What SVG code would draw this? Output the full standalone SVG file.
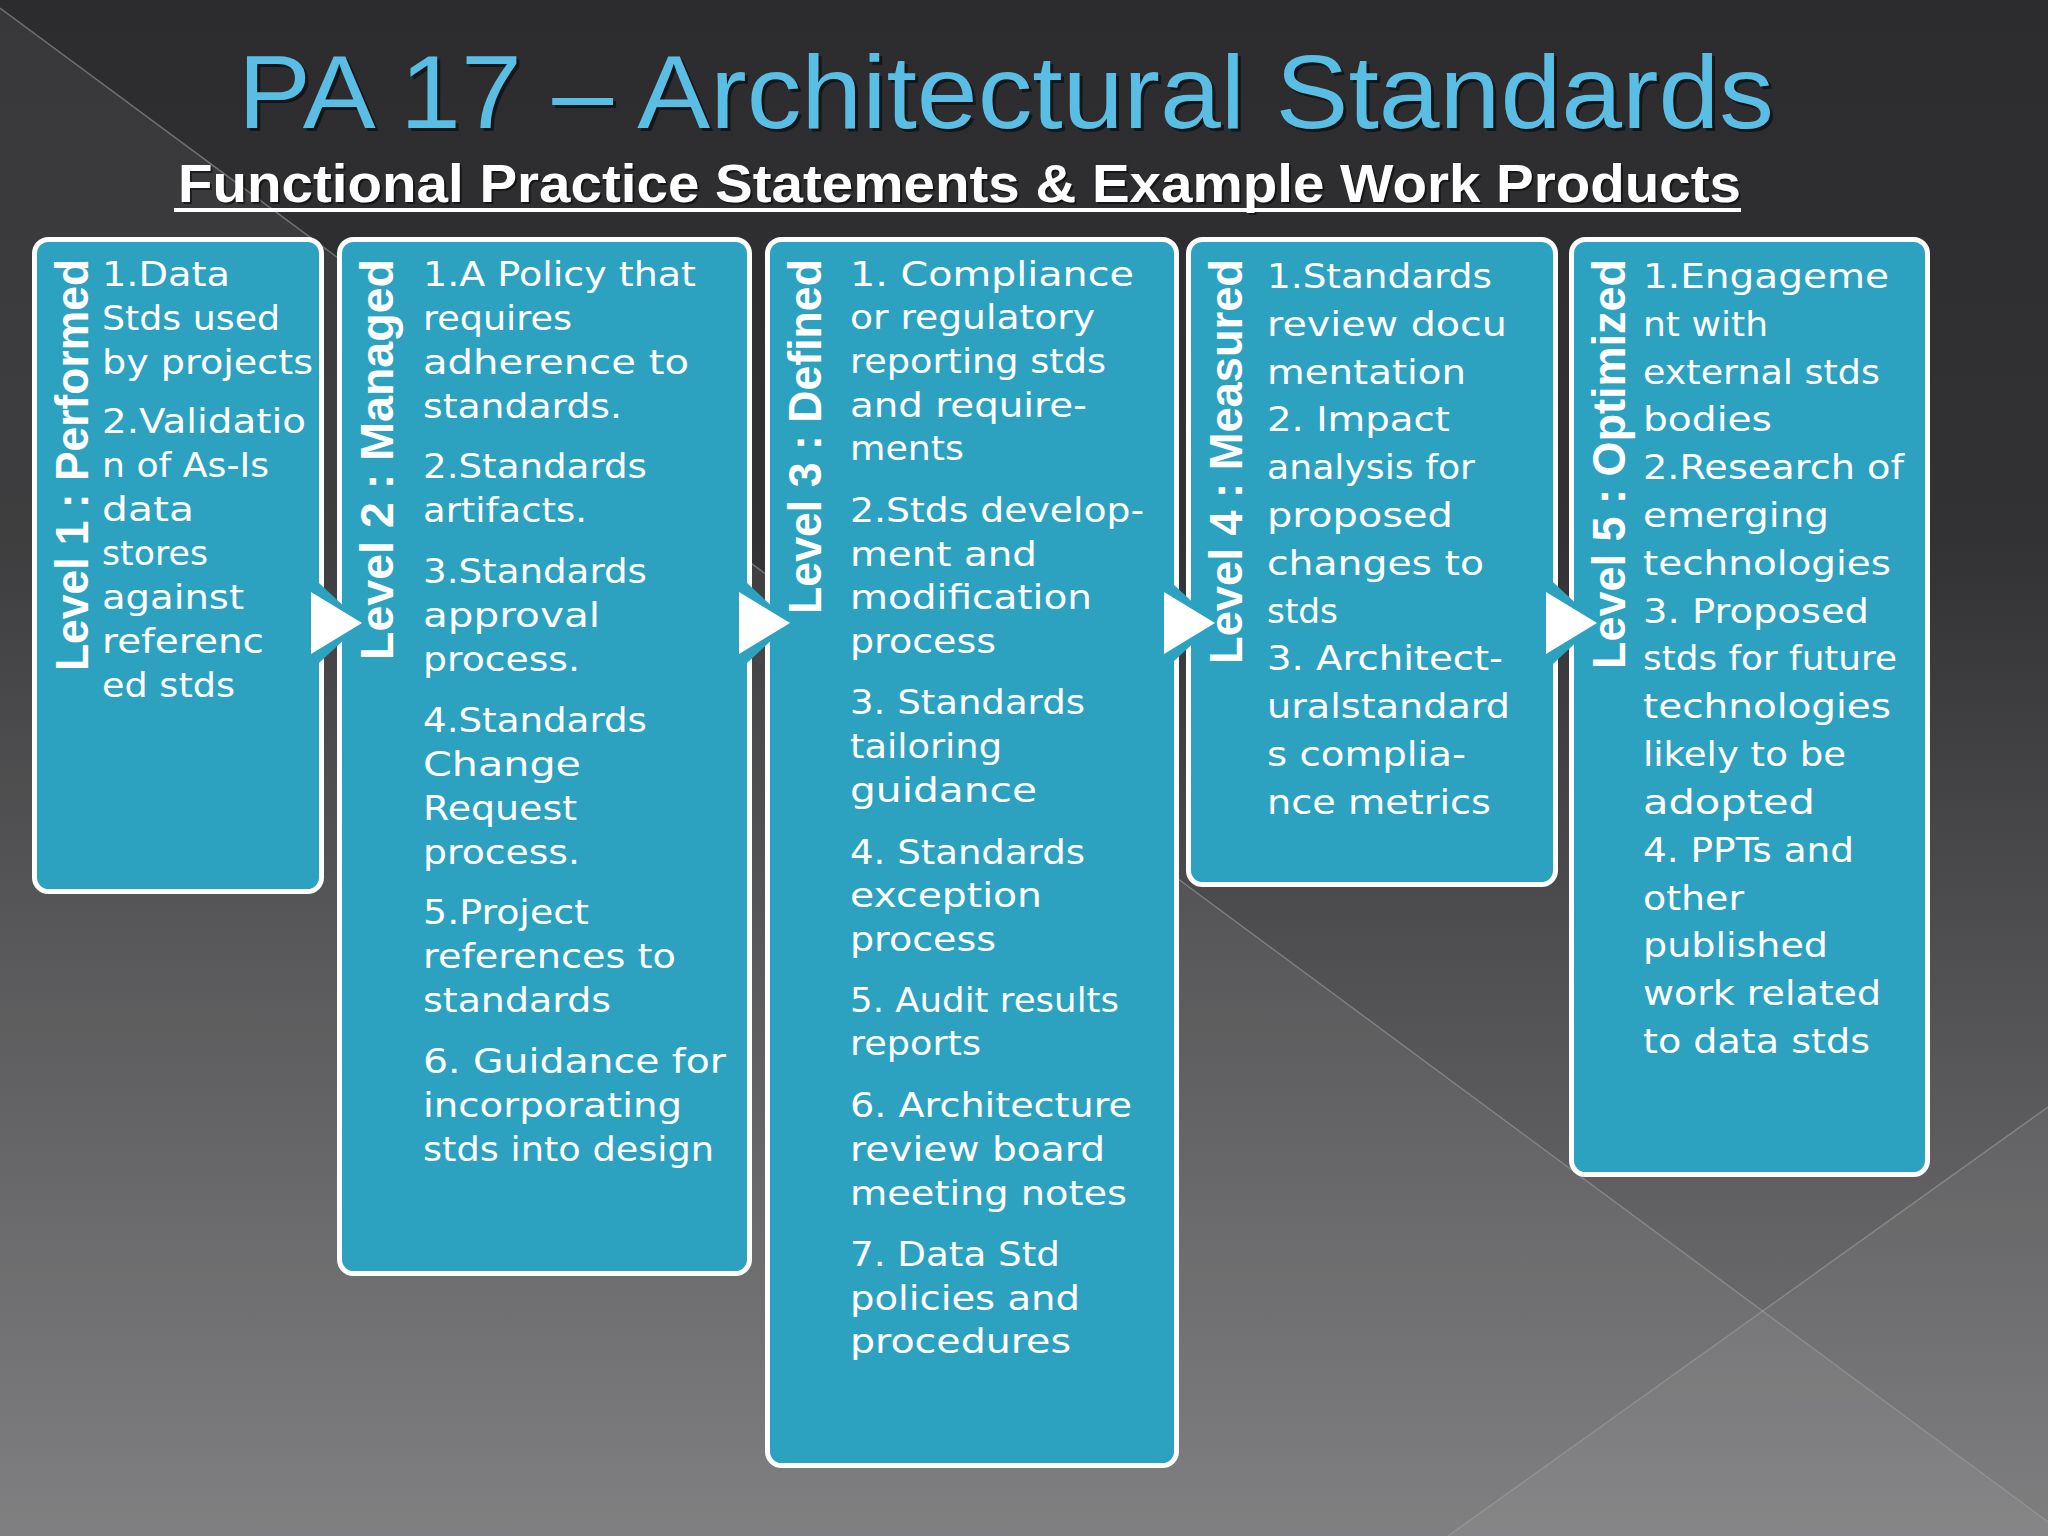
<svg xmlns="http://www.w3.org/2000/svg" width="2048" height="1536" viewBox="0 0 2048 1536">
<defs>
<linearGradient id="bg" x1="0" y1="0" x2="0" y2="1">
<stop offset="0" stop-color="#2c2c2e"/>
<stop offset="0.35" stop-color="#323234"/>
<stop offset="1" stop-color="#78787a"/>
</linearGradient>
<style>
.box{fill:#2da2c0;stroke:#ffffff;stroke-width:5}
.t{font-family:"DejaVu Sans","Liberation Sans",sans-serif;font-size:34px;fill:#ffffff}
.lbl{font-family:"Liberation Sans","DejaVu Sans",sans-serif;font-size:46px;font-weight:bold;fill:#ffffff}
.title{font-family:"Liberation Sans","DejaVu Sans",sans-serif;font-size:104px;fill:#5abee4}
.titlesh{font-family:"Liberation Sans","DejaVu Sans",sans-serif;font-size:104px;fill:#111113;opacity:0.8}
.sub{font-family:"Liberation Sans","DejaVu Sans",sans-serif;font-size:54px;font-weight:bold;fill:#ffffff}
.subsh{font-family:"Liberation Sans","DejaVu Sans",sans-serif;font-size:54px;font-weight:bold;fill:#000000;opacity:0.5}
.arrback{fill:#2da2c0}
.arr{fill:#ffffff}
.bgline{stroke:#a0a0a2;stroke-opacity:0.55;stroke-width:1.5;fill:none}
</style>
</defs>

<g id="background">
<rect x="0" y="0" width="2048" height="1536" fill="url(#bg)"/>
<polygon points="0,8 2048,1522 2048,1536 0,1536" fill="#ffffff" opacity="0.06"/>
<polygon points="2048,1107 1448,1536 2048,1536" fill="#ffffff" opacity="0.05"/>
<line class="bgline" x1="0" y1="8" x2="2048" y2="1522"/>
<line class="bgline" x1="2048" y1="1107" x2="1448" y2="1536"/>
</g>

<g id="title">
<text class="titlesh" x="241" y="131" textLength="1536" lengthAdjust="spacingAndGlyphs">PA 17 – Architectural Standards</text>
<text class="title" x="238" y="128" textLength="1536" lengthAdjust="spacingAndGlyphs">PA 17 – Architectural Standards</text>
<text class="subsh" x="180" y="204" textLength="1563" lengthAdjust="spacingAndGlyphs">Functional Practice Statements &amp; Example Work Products</text>
<text class="sub" x="178" y="202" textLength="1563" lengthAdjust="spacingAndGlyphs">Functional Practice Statements &amp; Example Work Products</text>
<rect x="174" y="208" width="1567" height="4" fill="#ffffff"/>
</g>

<g id="level1">
<rect class="box" x="34.5" y="239.5" width="287" height="652" rx="14"/>
<text class="lbl" transform="translate(88,259) rotate(-90)" x="0" y="0" text-anchor="end" textLength="412" lengthAdjust="spacingAndGlyphs">Level 1 : Performed</text>
<text class="t" x="102" y="286" textLength="128" lengthAdjust="spacingAndGlyphs">1.Data</text>
<text class="t" x="102" y="330" textLength="178" lengthAdjust="spacingAndGlyphs">Stds used</text>
<text class="t" x="102" y="374" textLength="211" lengthAdjust="spacingAndGlyphs">by projects</text>
<text class="t" x="102" y="433" textLength="204" lengthAdjust="spacingAndGlyphs">2.Validatio</text>
<text class="t" x="102" y="477" textLength="167" lengthAdjust="spacingAndGlyphs">n of As-Is</text>
<text class="t" x="102" y="521" textLength="92" lengthAdjust="spacingAndGlyphs">data</text>
<text class="t" x="102" y="565" textLength="106" lengthAdjust="spacingAndGlyphs">stores</text>
<text class="t" x="102" y="609" textLength="142" lengthAdjust="spacingAndGlyphs">against</text>
<text class="t" x="102" y="653" textLength="162" lengthAdjust="spacingAndGlyphs">referenc</text>
<text class="t" x="102" y="697" textLength="133" lengthAdjust="spacingAndGlyphs">ed stds</text>
</g>

<g id="level2">
<rect class="box" x="339.5" y="239.5" width="410" height="1034" rx="14"/>
<text class="lbl" transform="translate(393,259) rotate(-90)" x="0" y="0" text-anchor="end" textLength="401" lengthAdjust="spacingAndGlyphs">Level 2 : Managed</text>
<text class="t" x="423" y="286" textLength="273" lengthAdjust="spacingAndGlyphs">1.A Policy that</text>
<text class="t" x="423" y="330" textLength="149" lengthAdjust="spacingAndGlyphs">requires</text>
<text class="t" x="423" y="374" textLength="266" lengthAdjust="spacingAndGlyphs">adherence to</text>
<text class="t" x="423" y="418" textLength="199" lengthAdjust="spacingAndGlyphs">standards.</text>
<text class="t" x="423" y="478" textLength="224" lengthAdjust="spacingAndGlyphs">2.Standards</text>
<text class="t" x="423" y="522" textLength="164" lengthAdjust="spacingAndGlyphs">artifacts.</text>
<text class="t" x="423" y="583" textLength="224" lengthAdjust="spacingAndGlyphs">3.Standards</text>
<text class="t" x="423" y="627" textLength="177" lengthAdjust="spacingAndGlyphs">approval</text>
<text class="t" x="423" y="671" textLength="157" lengthAdjust="spacingAndGlyphs">process.</text>
<text class="t" x="423" y="732" textLength="224" lengthAdjust="spacingAndGlyphs">4.Standards</text>
<text class="t" x="423" y="776" textLength="158" lengthAdjust="spacingAndGlyphs">Change</text>
<text class="t" x="423" y="820" textLength="154" lengthAdjust="spacingAndGlyphs">Request</text>
<text class="t" x="423" y="864" textLength="157" lengthAdjust="spacingAndGlyphs">process.</text>
<text class="t" x="423" y="924" textLength="166" lengthAdjust="spacingAndGlyphs">5.Project</text>
<text class="t" x="423" y="968" textLength="253" lengthAdjust="spacingAndGlyphs">references to</text>
<text class="t" x="423" y="1012" textLength="188" lengthAdjust="spacingAndGlyphs">standards</text>
<text class="t" x="423" y="1073" textLength="303" lengthAdjust="spacingAndGlyphs">6. Guidance for</text>
<text class="t" x="423" y="1117" textLength="259" lengthAdjust="spacingAndGlyphs">incorporating</text>
<text class="t" x="423" y="1161" textLength="291" lengthAdjust="spacingAndGlyphs">stds into design</text>
</g>

<g id="level3">
<rect class="box" x="767.5" y="239.5" width="409" height="1226" rx="14"/>
<text class="lbl" transform="translate(821,259) rotate(-90)" x="0" y="0" text-anchor="end" textLength="355" lengthAdjust="spacingAndGlyphs">Level 3 : Defined</text>
<text class="t" x="850" y="286" textLength="284" lengthAdjust="spacingAndGlyphs">1. Compliance</text>
<text class="t" x="850" y="329" textLength="245" lengthAdjust="spacingAndGlyphs">or regulatory</text>
<text class="t" x="850" y="373" textLength="256" lengthAdjust="spacingAndGlyphs">reporting stds</text>
<text class="t" x="850" y="417" textLength="237" lengthAdjust="spacingAndGlyphs">and require-</text>
<text class="t" x="850" y="460" textLength="114" lengthAdjust="spacingAndGlyphs">ments</text>
<text class="t" x="850" y="522" textLength="294" lengthAdjust="spacingAndGlyphs">2.Stds develop-</text>
<text class="t" x="850" y="566" textLength="187" lengthAdjust="spacingAndGlyphs">ment and</text>
<text class="t" x="850" y="609" textLength="242" lengthAdjust="spacingAndGlyphs">modification</text>
<text class="t" x="850" y="653" textLength="146" lengthAdjust="spacingAndGlyphs">process</text>
<text class="t" x="850" y="714" textLength="235" lengthAdjust="spacingAndGlyphs">3. Standards</text>
<text class="t" x="850" y="758" textLength="152" lengthAdjust="spacingAndGlyphs">tailoring</text>
<text class="t" x="850" y="802" textLength="187" lengthAdjust="spacingAndGlyphs">guidance</text>
<text class="t" x="850" y="864" textLength="235" lengthAdjust="spacingAndGlyphs">4. Standards</text>
<text class="t" x="850" y="907" textLength="192" lengthAdjust="spacingAndGlyphs">exception</text>
<text class="t" x="850" y="951" textLength="146" lengthAdjust="spacingAndGlyphs">process</text>
<text class="t" x="850" y="1012" textLength="269" lengthAdjust="spacingAndGlyphs">5. Audit results</text>
<text class="t" x="850" y="1055" textLength="131" lengthAdjust="spacingAndGlyphs">reports</text>
<text class="t" x="850" y="1117" textLength="282" lengthAdjust="spacingAndGlyphs">6. Architecture</text>
<text class="t" x="850" y="1161" textLength="255" lengthAdjust="spacingAndGlyphs">review board</text>
<text class="t" x="850" y="1205" textLength="277" lengthAdjust="spacingAndGlyphs">meeting notes</text>
<text class="t" x="850" y="1266" textLength="210" lengthAdjust="spacingAndGlyphs">7. Data Std</text>
<text class="t" x="850" y="1310" textLength="230" lengthAdjust="spacingAndGlyphs">policies and</text>
<text class="t" x="850" y="1353" textLength="221" lengthAdjust="spacingAndGlyphs">procedures</text>
</g>

<g id="level4">
<rect class="box" x="1188.5" y="239.5" width="367" height="645" rx="14"/>
<text class="lbl" transform="translate(1242,259) rotate(-90)" x="0" y="0" text-anchor="end" textLength="405" lengthAdjust="spacingAndGlyphs">Level 4 : Measured</text>
<text class="t" x="1267" y="288" textLength="225" lengthAdjust="spacingAndGlyphs">1.Standards</text>
<text class="t" x="1267" y="336" textLength="240" lengthAdjust="spacingAndGlyphs">review docu</text>
<text class="t" x="1267" y="384" textLength="199" lengthAdjust="spacingAndGlyphs">mentation</text>
<text class="t" x="1267" y="431" textLength="183" lengthAdjust="spacingAndGlyphs">2. Impact</text>
<text class="t" x="1267" y="479" textLength="208" lengthAdjust="spacingAndGlyphs">analysis for</text>
<text class="t" x="1267" y="527" textLength="186" lengthAdjust="spacingAndGlyphs">proposed</text>
<text class="t" x="1267" y="575" textLength="217" lengthAdjust="spacingAndGlyphs">changes to</text>
<text class="t" x="1267" y="623" textLength="71" lengthAdjust="spacingAndGlyphs">stds</text>
<text class="t" x="1267" y="670" textLength="236" lengthAdjust="spacingAndGlyphs">3. Architect-</text>
<text class="t" x="1267" y="718" textLength="243" lengthAdjust="spacingAndGlyphs">uralstandard</text>
<text class="t" x="1267" y="766" textLength="199" lengthAdjust="spacingAndGlyphs">s complia-</text>
<text class="t" x="1267" y="814" textLength="224" lengthAdjust="spacingAndGlyphs">nce metrics</text>
</g>

<g id="level5">
<rect class="box" x="1571.5" y="239.5" width="356" height="935" rx="14"/>
<text class="lbl" transform="translate(1625,259) rotate(-90)" x="0" y="0" text-anchor="end" textLength="410" lengthAdjust="spacingAndGlyphs">Level 5 : Optimized</text>
<text class="t" x="1643" y="288" textLength="246" lengthAdjust="spacingAndGlyphs">1.Engageme</text>
<text class="t" x="1643" y="336" textLength="125" lengthAdjust="spacingAndGlyphs">nt with</text>
<text class="t" x="1643" y="384" textLength="237" lengthAdjust="spacingAndGlyphs">external stds</text>
<text class="t" x="1643" y="431" textLength="129" lengthAdjust="spacingAndGlyphs">bodies</text>
<text class="t" x="1643" y="479" textLength="261" lengthAdjust="spacingAndGlyphs">2.Research of</text>
<text class="t" x="1643" y="527" textLength="186" lengthAdjust="spacingAndGlyphs">emerging</text>
<text class="t" x="1643" y="575" textLength="248" lengthAdjust="spacingAndGlyphs">technologies</text>
<text class="t" x="1643" y="623" textLength="226" lengthAdjust="spacingAndGlyphs">3. Proposed</text>
<text class="t" x="1643" y="670" textLength="254" lengthAdjust="spacingAndGlyphs">stds for future</text>
<text class="t" x="1643" y="718" textLength="248" lengthAdjust="spacingAndGlyphs">technologies</text>
<text class="t" x="1643" y="766" textLength="203" lengthAdjust="spacingAndGlyphs">likely to be</text>
<text class="t" x="1643" y="814" textLength="172" lengthAdjust="spacingAndGlyphs">adopted</text>
<text class="t" x="1643" y="862" textLength="211" lengthAdjust="spacingAndGlyphs">4. PPTs and</text>
<text class="t" x="1643" y="910" textLength="101" lengthAdjust="spacingAndGlyphs">other</text>
<text class="t" x="1643" y="957" textLength="185" lengthAdjust="spacingAndGlyphs">published</text>
<text class="t" x="1643" y="1005" textLength="238" lengthAdjust="spacingAndGlyphs">work related</text>
<text class="t" x="1643" y="1053" textLength="227" lengthAdjust="spacingAndGlyphs">to data stds</text>
</g>

<g id="connectors">
<polygon class="arrback" points="305,570 305,676 362,623"/>
<polygon class="arr" points="311,592 311,654 362,623"/>
<polygon class="arrback" points="733,570 733,676 790,623"/>
<polygon class="arr" points="739,592 739,654 790,623"/>
<polygon class="arrback" points="1158,570 1158,676 1215,623"/>
<polygon class="arr" points="1164,592 1164,654 1215,623"/>
<polygon class="arrback" points="1540,570 1540,676 1597,623"/>
<polygon class="arr" points="1546,592 1546,654 1597,623"/>
</g>
</svg>
